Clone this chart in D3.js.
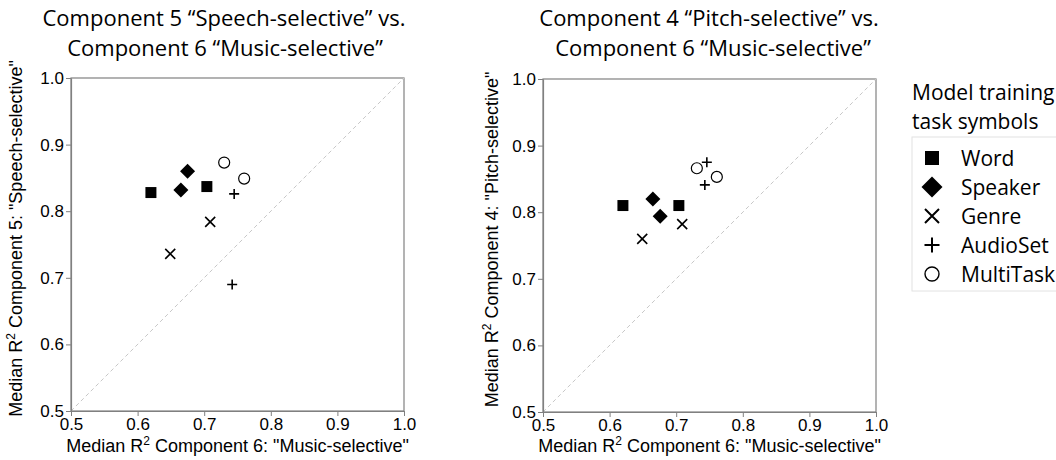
<!DOCTYPE html>
<html>
<head>
<meta charset="utf-8">
<script src="https://cdn.jsdelivr.net/npm/d3@7"></script>
<style>
  body { margin: 0; background: #fff; }
  svg { display: block; }
  .tick text { font-family: Arial, "Liberation Sans", sans-serif; font-size: 17px; fill: #000; }
  .tick line, .domain { stroke: #808080; }
</style>
</head>
<body>
<svg id="chart" width="1056" height="460"></svg>
<script>
// model training tasks (legend order) and the two models per task in each panel
var tasks = ["Word", "Speaker", "Genre", "AudioSet", "MultiTask"];
var pointTask = ["Word", "Word", "Speaker", "Speaker", "Genre", "Genre", "AudioSet", "AudioSet", "MultiTask", "MultiTask"];

// panel 1: component 6 (music) vs component 5 (speech)
var leftMusic  = [0.620, 0.704, 0.675, 0.665, 0.709, 0.649, 0.745, 0.742, 0.730, 0.760];
var leftSpeech = [0.828, 0.837, 0.860, 0.832, 0.784, 0.736, 0.826, 0.690, 0.873, 0.849];

// panel 2: component 6 (music) vs component 4 (pitch)
var rightMusic = [0.620, 0.704, 0.665, 0.676, 0.649, 0.709, 0.746, 0.743, 0.731, 0.761];
var rightPitch = [0.810, 0.810, 0.820, 0.794, 0.760, 0.782, 0.875, 0.841, 0.866, 0.853];

var tickValues = [0.5, 0.6, 0.7, 0.8, 0.9, 1.0];

var svg = d3.select("#chart");
var titleFont = "'Open Sans', 'Noto Sans', sans-serif";
var axisFont = "Arial, 'Liberation Sans', sans-serif";

// symbol path for each task, s = size in px
function symbolPath(task, s) {
    var h = s / 2;
    if (task == "Word") return "M" + (-h) + "," + (-h) + "H" + h + "V" + h + "H" + (-h) + "Z";
    if (task == "Speaker") return "M0," + (-h) + "L" + h + ",0L0," + h + "L" + (-h) + ",0Z";
    if (task == "Genre") return "M" + (-h) + "," + (-h) + "L" + h + "," + h + "M" + h + "," + (-h) + "L" + (-h) + "," + h;
    if (task == "AudioSet") return "M" + (-h) + ",0H" + h + "M0," + (-h) + "V" + h;
    // MultiTask circle
    return d3.arc()({innerRadius: 0, outerRadius: h, startAngle: 0, endAngle: 2 * Math.PI});
}

function symbolStyle(sel, task) {
    if (task == "Word" || task == "Speaker") {
        sel.attr("fill", "#000").attr("stroke", "none");
    } else if (task == "MultiTask") {
        sel.attr("fill", "#fff").attr("stroke", "#000").attr("stroke-width", 1.2);
    } else {
        sel.attr("fill", "none").attr("stroke", "#000").attr("stroke-width", 1.6);
    }
}

var plotSize = {"Word": 11, "Speaker": 15, "Genre": 10, "AudioSet": 10, "MultiTask": 11};

function panel(opts) {
    var g = svg.append("g");
    var x = d3.scaleLinear().domain([0.5, 1.0]).range([opts.left, opts.left + 333]);
    var y = d3.scaleLinear().domain([0.5, 1.0]).range([opts.top + 333, opts.top]);

    // frame
    g.append("rect")
        .attr("x", x(0.5)).attr("y", y(1.0))
        .attr("width", x(1.0) - x(0.5)).attr("height", y(0.5) - y(1.0))
        .attr("fill", "none").attr("stroke", "#808080").attr("stroke-width", 1.2);

    // identity line
    g.append("line")
        .attr("x1", x(0.5)).attr("y1", y(0.5))
        .attr("x2", x(1.0)).attr("y2", y(1.0))
        .attr("stroke", "#c8c8c8").attr("stroke-width", 1)
        .attr("stroke-dasharray", "4,3");

    g.append("g")
        .attr("transform", "translate(0," + y(0.5) + ")")
        .call(d3.axisBottom(x).tickValues(tickValues).tickFormat(d3.format(".1f")).tickSize(5).tickSizeOuter(0).tickPadding(2));
    g.append("g")
        .attr("transform", "translate(" + x(0.5) + ",0)")
        .call(d3.axisLeft(y).tickValues(tickValues).tickFormat(d3.format(".1f")).tickSize(5).tickSizeOuter(0).tickPadding(2));
    g.selectAll(".domain").attr("stroke-width", 1.2);

    // axis titles
    var xt = g.append("text")
        .attr("x", (x(0.5) + x(1.0)) / 2).attr("y", 452)
        .attr("text-anchor", "middle")
        .style("font-family", axisFont).style("font-size", "18px");
    xt.append("tspan").text("Median R");
    xt.append("tspan").attr("dy", -7).style("font-size", "12px").text("2");
    xt.append("tspan").attr("dy", 7).text(" Component 6: \"Music-selective\"");

    var yt = g.append("text")
        .attr("transform", "translate(" + opts.ytitleX + "," + ((y(0.5) + y(1.0)) / 2 - 6) + ") rotate(-90)")
        .attr("text-anchor", "middle")
        .style("font-family", axisFont).style("font-size", "18px");
    yt.append("tspan").text("Median R");
    yt.append("tspan").attr("dy", -7).style("font-size", "12px").text("2");
    yt.append("tspan").attr("dy", 7).text(" " + opts.ylabel);

    // panel title, two lines
    g.selectAll(".ptitle")
        .data(opts.title)
        .enter().append("text")
        .attr("class", "ptitle")
        .attr("x", function(d, i) { return opts.titleX[i]; })
        .attr("y", function(d, i) { return 26 + i * 30; })
        .attr("text-anchor", "middle")
        .style("font-family", titleFont).style("font-size", "22px")
        .text(function(d) { return d; });

    // points
    opts.xs.forEach(function(v, i) {
        var task = pointTask[i];
        g.append("path")
            .attr("d", symbolPath(task, plotSize[task]))
            .attr("transform", "translate(" + x(v) + "," + y(opts.ys[i]) + ")")
            .call(symbolStyle, task);
    });
}

panel({
    left: 71, top: 78, ytitleX: 22,
    xs: leftMusic, ys: leftSpeech,
    ylabel: "Component 5: \"Speech-selective\"",
    title: ["Component 5 \u201cSpeech-selective\u201d  vs.", "Component 6 \u201cMusic-selective\u201d"],
    titleX: [224, 225]
});

panel({
    left: 543, top: 79, ytitleX: 498,
    xs: rightMusic, ys: rightPitch,
    ylabel: "Component 4: \"Pitch-selective\"",
    title: ["Component 4 \u201cPitch-selective\u201d  vs.", "Component 6 \u201cMusic-selective\u201d"],
    titleX: [709, 713]
});

// legend
var legend = svg.append("g");
legend.selectAll(".lhead")
    .data(["Model training", "task symbols"])
    .enter().append("text")
    .attr("x", 912).attr("y", function(d, i) { return 100 + i * 29; })
    .style("font-family", titleFont).style("font-size", "21px")
    .text(function(d) { return d; });

legend.append("rect")
    .attr("x", 912).attr("y", 137).attr("width", 160).attr("height", 154)
    .attr("fill", "none").attr("stroke", "#e2e2e2");

var legendSize = {"Word": 14, "Speaker": 21, "Genre": 14, "AudioSet": 15, "MultiTask": 14};
tasks.forEach(function(t, i) {
    var cy = 158 + i * 29;
    legend.append("path")
        .attr("d", symbolPath(t, legendSize[t]))
        .attr("transform", "translate(932," + cy + ")")
        .call(symbolStyle, t)
        .attr("stroke-width", t == "MultiTask" ? 1.4 : (t == "Word" || t == "Speaker") ? null : 2);
    legend.append("text")
        .attr("x", 961).attr("y", cy + 8)
        .style("font-family", titleFont).style("font-size", "21px")
        .text(t);
});
</script>
</body>
</html>
